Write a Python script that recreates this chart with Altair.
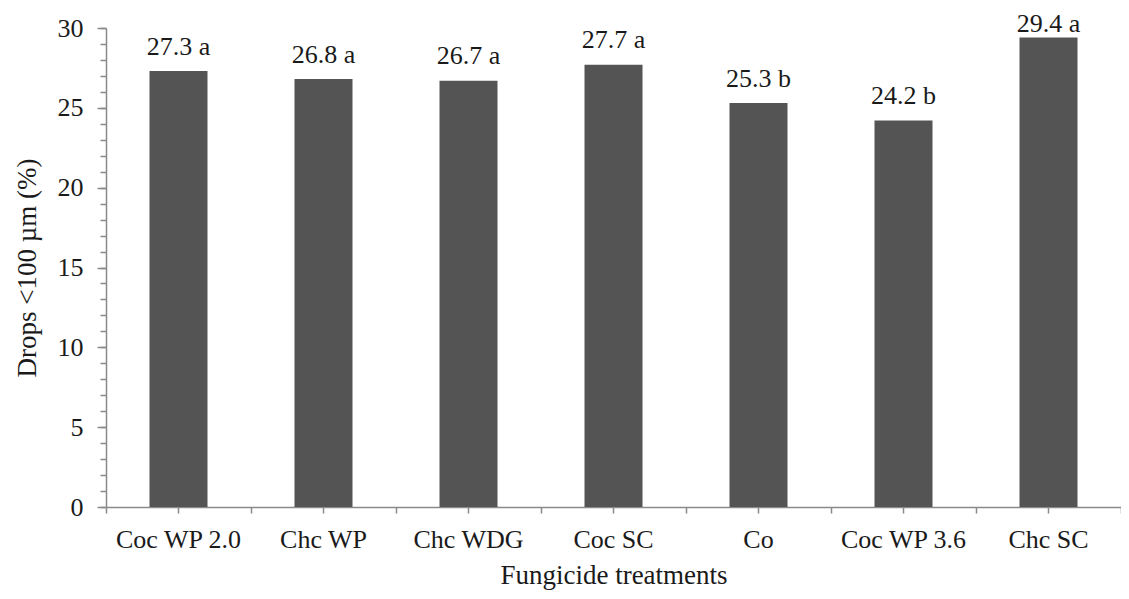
import altair as alt
import pandas as pd

treatments = ["Coc WP 2.0", "Chc WP", "Chc WDG", "Coc SC", "Co", "Coc WP 3.6", "Chc SC"]
values = [27.3, 26.8, 26.7, 27.7, 25.3, 24.2, 29.4]
letters = ["a", "a", "a", "a", "b", "b", "a"]
major_ticks = [0, 5, 10, 15, 20, 25, 30]
minor_ticks = list(range(0, 31))

df = pd.DataFrame({"treatment": treatments, "value": values, "letter": letters})
df["label"] = [f"{v:.1f} {l}" for v, l in zip(values, letters)]

FONT = "Liberation Serif"
AXIS_COLOR = "#8a8a8a"
TEXT_COLOR = "#1a1a1a"
W, H = 1015, 479

xscale = alt.Scale(paddingInner=0, paddingOuter=0)
yscale = alt.Scale(domain=[0, 30], nice=False, zero=True)

bars = alt.Chart(df).mark_bar(width=alt.RelativeBandSize(0.4), color="#545454").encode(
    x=alt.X("treatment:N", sort=treatments, scale=xscale,
            axis=alt.Axis(title="Fungicide treatments", orient="bottom", labelAngle=0,
                          labelFont=FONT, labelFontSize=26, labelColor=TEXT_COLOR,
                          labelBaseline="alphabetic", labelPadding=34,
                          titleFont=FONT, titleFontSize=27, titleFontWeight="normal",
                          titleColor=TEXT_COLOR, titleX=W / 2, titleY=76,
                          titleBaseline="alphabetic", titleAnchor="middle",
                          tickSize=6, tickColor=AXIS_COLOR, tickWidth=1.5,
                          domainColor=AXIS_COLOR, domainWidth=1.5)),
    y=alt.Y("value:Q", scale=yscale,
            axis=alt.Axis(title="Drops <100 µm (%)", orient="left", values=major_ticks,
                          labelFont=FONT, labelFontSize=26, labelColor=TEXT_COLOR,
                          labelPadding=14, tickSize=9, tickColor=AXIS_COLOR, tickWidth=1.5,
                          domainColor=AXIS_COLOR, domainWidth=1.5, grid=False,
                          titleFont=FONT, titleFontSize=27, titleFontWeight="normal",
                          titleColor=TEXT_COLOR, titleAngle=-90, titleX=-71, titleY=H / 2,
                          titleBaseline="alphabetic", titleAlign="center")),
)

text = alt.Chart(df).transform_calculate(
    labelpos="min(datum.value, 28.7)"
).mark_text(font=FONT, fontSize=26, color=TEXT_COLOR,
            baseline="alphabetic", dy=-16.5).encode(
    x=alt.X("treatment:N", sort=treatments, scale=xscale, axis=None),
    y=alt.Y("labelpos:Q", scale=yscale, axis=None),
    text="label:N",
)

minor = alt.Chart(df).mark_bar(opacity=0).encode(
    x=alt.X("treatment:N", sort=treatments, scale=xscale,
            axis=alt.Axis(title=None, orient="bottom", labels=False, domain=False,
                          tickBand="extent", tickSize=6, tickColor=AXIS_COLOR, tickWidth=1.5)),
    y=alt.Y("value:Q", scale=yscale,
            axis=alt.Axis(title=None, orient="left", labels=False, domain=False,
                          values=minor_ticks, tickSize=6, tickColor=AXIS_COLOR,
                          tickWidth=1.5, grid=False)),
)

chart = alt.layer(bars, text, minor).resolve_axis(x="independent", y="independent").properties(
    width=W, height=H,
    autosize=alt.AutoSizeParams(type="none"),
    padding={"left": 98, "top": 20, "right": 0, "bottom": 84},
    background="white",
).configure_view(stroke=None)

chart.save("out.html", embed_options={"renderer": "svg", "actions": False})
